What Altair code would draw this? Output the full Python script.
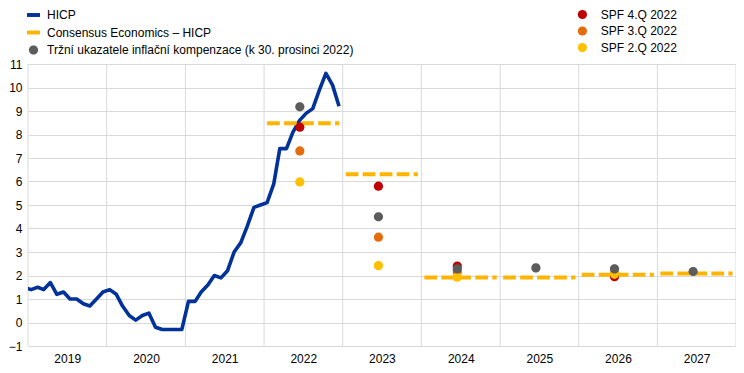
import altair as alt
import pandas as pd

# ---------------- data ----------------
hicp_first_month = "2018-12-01"
hicp_values = [1.5,
               1.4, 1.5, 1.4, 1.7, 1.2, 1.3, 1.0, 1.0, 0.8, 0.7, 1.0, 1.3,
               1.4, 1.2, 0.7, 0.3, 0.1, 0.3, 0.4, -0.2, -0.3, -0.3, -0.3, -0.3,
               0.9, 0.9, 1.3, 1.6, 2.0, 1.9, 2.2, 3.0, 3.4, 4.1, 4.9, 5.0,
               5.1, 5.9, 7.4, 7.4, 8.1, 8.6, 8.9, 9.1, 9.9, 10.6, 10.1, 9.2]

years = [2022, 2023, 2024, 2025, 2026, 2027]
consensus = [8.48, 6.31, 1.91, 1.92, 2.03, 2.08]
market = [9.18, 4.5, 2.28, 2.32, 2.28, 2.17]
spf_q4 = [8.31, 5.8, 2.4, None, 1.95, None]
spf_q3 = [7.3, 3.63, 2.15, None, 2.1, None]
spf_q2 = [5.98, 2.42, 1.93, None, 2.05, None]

axis_years = list(range(2019, 2028))
boundary_years = list(range(2019, 2029))
y_ticks = list(range(-1, 12))

S_HICP = "HICP"
S_CONS = "Consensus Economics – HICP"
S_MKT = "Tržní ukazatele inflační kompenzace (k 30. prosinci 2022)"
S_Q4 = "SPF 4.Q 2022"
S_Q3 = "SPF 3.Q 2022"
S_Q2 = "SPF 2.Q 2022"

# ---------------- tables ----------------
months = pd.date_range(hicp_first_month, periods=len(hicp_values), freq="MS") + pd.Timedelta(days=14)
hicp_df = pd.DataFrame({"date": months, "value": hicp_values, "series": S_HICP})

cons_rows = []
for y, v in zip(years, consensus):
    cons_rows.append({"date": pd.Timestamp(f"{y}-01-15"), "value": v, "year": y, "series": S_CONS})
    cons_rows.append({"date": pd.Timestamp(f"{y}-12-16"), "value": v, "year": y, "series": S_CONS})
cons_df = pd.DataFrame(cons_rows)

mkt_df = pd.DataFrame({"date": [pd.Timestamp(f"{y}-06-16") for y in years],
                       "value": market, "series": S_MKT})

spf_rows = []
for i, (name, vals) in enumerate([(S_Q4, spf_q4), (S_Q3, spf_q3), (S_Q2, spf_q2)]):
    for y, v in zip(years, vals):
        if v is not None:
            spf_rows.append({"date": pd.Timestamp(f"{y}-06-16"), "value": v,
                             "series": name, "order_idx": i})
spf_df = pd.DataFrame(spf_rows)

rule_df = pd.DataFrame({"date": [pd.Timestamp(f"{y}-01-01") for y in boundary_years]})

# ---------------- styles ----------------
FONT = "Liberation Sans"
GRID = "#d9d9d9"
BLUE, YELLOW, GREY = "#003299", "#ffb400", "#5c5c5c"

x_scale = alt.Scale(domain=[alt.DateTime(year=2019, month=1, date=1),
                            alt.DateTime(year=2028, month=1, date=1)])
x_axis = alt.Axis(values=[alt.DateTime(year=y, month=7, date=2) for y in axis_years],
                  format="%Y", labelAngle=0, grid=False, ticks=False, tickSize=0,
                  domain=False, labelPadding=7, title=None, labelFont=FONT,
                  labelFontSize=12, labelColor="#000000")
x_enc = alt.X("date:T", scale=x_scale, axis=x_axis)

y_scale = alt.Scale(domain=[-1, 11], nice=False, zero=False)
y_axis = alt.Axis(values=y_ticks, grid=True, gridColor=GRID, gridWidth=1, ticks=False,
                  tickSize=0, domain=False, labelPadding=6, title=None, labelFont=FONT,
                  labelFontSize=12, labelColor="#000000")
y_enc = alt.Y("value:Q", scale=y_scale, axis=y_axis)

BAR = "M-1,-0.3H1V0.3H-1Z"
CIRC = "M0.71,0A0.71,0.71,0,1,1,-0.71,0A0.71,0.71,0,1,1,0.71,0Z"

color_scale = alt.Scale(domain=[S_HICP, S_CONS, S_MKT], range=[BLUE, YELLOW, GREY])
shape_scale = alt.Scale(domain=[S_HICP, S_CONS, S_MKT], range=[BAR, BAR, CIRC])
fill_scale = alt.Scale(domain=[S_Q4, S_Q3, S_Q2],
                       range=["#c00000", "#e46c0a", "#ffc000"])

left_legend = alt.Legend(
    orient="none", legendX=-1, legendY=-55.5, title=None, padding=0,
    symbolSize=169, labelOffset=7, rowPadding=4.5, labelLimit=0,
    symbolStrokeWidth=0, symbolOpacity=1,
    labelFont=FONT, labelFontSize=12, labelColor="#000000")
right_legend = alt.Legend(
    orient="none", legendX=548.4, legendY=-55.5, title=None, padding=0,
    symbolType="circle", symbolSize=85, symbolStrokeWidth=0, symbolOpacity=1,
    labelOffset=12.4, rowPadding=4.5, labelLimit=0,
    labelFont=FONT, labelFontSize=12, labelColor="#000000")

# ---------------- layers ----------------
rules = alt.Chart(rule_df).mark_rule(color=GRID, strokeWidth=1).encode(x=x_enc)

hicp = alt.Chart(hicp_df).mark_line(strokeWidth=3.6, clip=True, strokeJoin="round",
                                    color=BLUE).encode(x=x_enc, y=y_enc)

cons = alt.Chart(cons_df).mark_line(strokeWidth=4, strokeDash=[12.7, 4.3], strokeCap="butt",
                                    color=YELLOW).encode(x=x_enc, y=y_enc, detail="year:N")

spf = alt.Chart(spf_df).mark_circle(size=85, opacity=1, strokeWidth=0).encode(
    x=x_enc, y=y_enc,
    fill=alt.Fill("series:N", scale=fill_scale, legend=right_legend),
    order=alt.Order("order_idx:Q"))

mkt = alt.Chart(mkt_df).mark_point(size=169, filled=True, opacity=1, strokeWidth=0).encode(
    x=x_enc, y=y_enc,
    color=alt.Color("series:N", scale=color_scale, legend=left_legend),
    shape=alt.Shape("series:N", scale=shape_scale, legend=left_legend))

chart = alt.layer(rules, hicp, cons, spf, mkt).properties(
    width=708, height=282,
    autosize=alt.AutoSizeParams(type="none"),
    padding={"left": 20, "top": 56, "right": 0, "bottom": 19},
    background="#ffffff",
).configure_view(stroke=None)

chart.save("out.html", embed_options={"renderer": "svg", "actions": False})
